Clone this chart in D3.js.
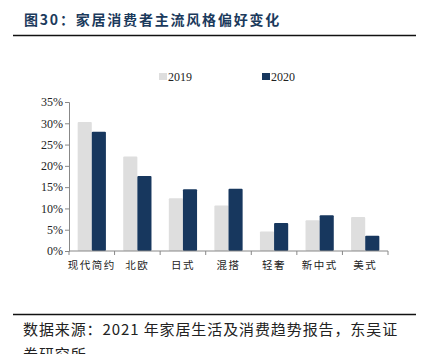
<!DOCTYPE html>
<html lang="zh">
<head>
  <meta charset="UTF-8">
  <style>
body {
    margin: 0;
    background: #fff;
}

.title {
    fill: #1b3a5c;
    font-family: "Noto Sans CJK SC", sans-serif;
    font-weight: 700;
    font-size: 14px;
    letter-spacing: 1.8px;
}

.tick text {
    font-family: "Liberation Serif", serif;
    font-size: 12px;
    fill: #222;
}

.xlab {
    font-family: "Noto Sans CJK SC", sans-serif;
    font-size: 10.5px;
    fill: #222;
    letter-spacing: 1.5px;
}

.legend-label {
    font-family: "Liberation Serif", serif;
    font-size: 12px;
    fill: #222;
}

.source {
    font-family: "Noto Sans CJK SC", sans-serif;
    font-size: 15px;
    fill: #222;
    letter-spacing: 0.9px;
}
  </style>
  <title>家居消费者主流风格偏好变化</title>
</head>
<body>
<div id="wrapper"></div>

<script src="https://cdnjs.cloudflare.com/ajax/libs/d3/7.8.5/d3.min.js"></script>
<script>
  // DATA
  const categories = ['现代简约', '北欧', '日式', '混搭', '轻奢', '新中式', '美式']
  const series = ['2019', '2020']
  const values2019 = [30.3, 22.2, 12.4, 10.7, 4.6, 7.2, 8.0]
  const values2020 = [28.0, 17.6, 14.5, 14.6, 6.6, 8.4, 3.6]
  const yTicks = [0, 5, 10, 15, 20, 25, 30, 35]

  function drawBarChart() {
    const dimensions = {
      width: 433,
      height: 354,
      margin: { top: 102, right: 45, bottom: 103, left: 69 },
    }
    dimensions.boundedWidth = dimensions.width - dimensions.margin.left - dimensions.margin.right
    dimensions.boundedHeight = dimensions.height - dimensions.margin.top - dimensions.margin.bottom

    const colors = { '2019': '#dedede', '2020': '#17375e' }

    const svg = d3.select('#wrapper')
      .append('svg')
      .attr('width', dimensions.width)
      .attr('height', dimensions.height)

    // header
    svg.append('text')
      .attr('class', 'title')
      .attr('x', 24)
      .attr('y', 25)
      .text('图30：家居消费者主流风格偏好变化')

    svg.append('line')
      .attr('x1', 13).attr('x2', 416)
      .attr('y1', 35.5).attr('y2', 35.5)
      .attr('stroke', '#111')
      .attr('stroke-width', 1.5)

    const bounds = svg.append('g')
      .attr('transform', `translate(${dimensions.margin.left},${dimensions.margin.top})`)

    // SCALES
    const xScale = d3.scaleBand()
      .domain(categories)
      .range([0, dimensions.boundedWidth])
      .paddingInner(0.38)
      .paddingOuter(0.19)

    const groupScale = d3.scaleBand()
      .domain(series)
      .range([0, xScale.bandwidth()])

    const yScale = d3.scaleLinear()
      .domain([0, 35])
      .range([dimensions.boundedHeight, 0])

    // AXES
    const yAxis = d3.axisLeft(yScale)
      .tickValues(yTicks)
      .tickSize(4)
      .tickPadding(2)
      .tickFormat(d => d + '%')

    const yAxisGroup = bounds.append('g').call(yAxis)
    yAxisGroup.select('.domain').attr('stroke', '#888')
    yAxisGroup.selectAll('.tick line').attr('stroke', '#888')

    // bars
    const rows = categories.map((c, i) => ({ cat: c, v: { '2019': values2019[i], '2020': values2020[i] } }))

    const groups = bounds.selectAll('.group')
      .data(rows)
      .join('g')
        .attr('transform', d => `translate(${xScale(d.cat)},0)`)

    groups.selectAll('rect')
      .data(d => series.map(s => ({ s, v: d.v[s] })))
      .join('rect')
        .attr('x', d => groupScale(d.s))
        .attr('width', groupScale.bandwidth())
        .attr('y', d => yScale(d.v))
        .attr('height', d => yScale(0) - yScale(d.v))
        .attr('rx', 1)
        .attr('fill', d => colors[d.s])

    // x axis line and boundary ticks
    const step = dimensions.boundedWidth / categories.length
    const xAxisGroup = bounds.append('g')
      .attr('transform', `translate(0,${dimensions.boundedHeight})`)
    xAxisGroup.append('line')
      .attr('x1', 0).attr('x2', dimensions.boundedWidth)
      .attr('stroke', '#888')
    xAxisGroup.selectAll('.xtick')
      .data(d3.range(categories.length + 1))
      .join('line')
        .attr('x1', i => i * step).attr('x2', i => i * step)
        .attr('y1', 0).attr('y2', 4)
        .attr('stroke', '#888')

    xAxisGroup.selectAll('.xlab')
      .data(categories)
      .join('text')
        .attr('class', 'xlab')
        .attr('x', d => xScale(d) + xScale.bandwidth() / 2)
        .attr('y', 18)
        .attr('text-anchor', 'middle')
        .text(d => d)

    // legend
    const legendX = { '2019': 159, '2020': 262 }
    const legend = svg.selectAll('.legend')
      .data(series)
      .join('g')
        .attr('transform', d => `translate(${legendX[d]},73)`)
    legend.append('rect')
      .attr('width', 8).attr('height', 7)
      .attr('fill', d => colors[d])
    legend.append('text')
      .attr('class', 'legend-label')
      .attr('x', 9)
      .attr('y', 7.5)
      .text(d => d)

    // footer
    svg.append('line')
      .attr('x1', 13).attr('x2', 416)
      .attr('y1', 314.5).attr('y2', 314.5)
      .attr('stroke', '#111')
      .attr('stroke-width', 1.5)

    svg.append('text')
      .attr('class', 'source')
      .attr('x', 23)
      .attr('y', 335)
      .text('数据来源：2021 年家居生活及消费趋势报告，东吴证')

    svg.append('text')
      .attr('class', 'source')
      .attr('x', 23)
      .attr('y', 360)
      .text('券研究所')
  }
  drawBarChart()
</script>
</body>
</html>
